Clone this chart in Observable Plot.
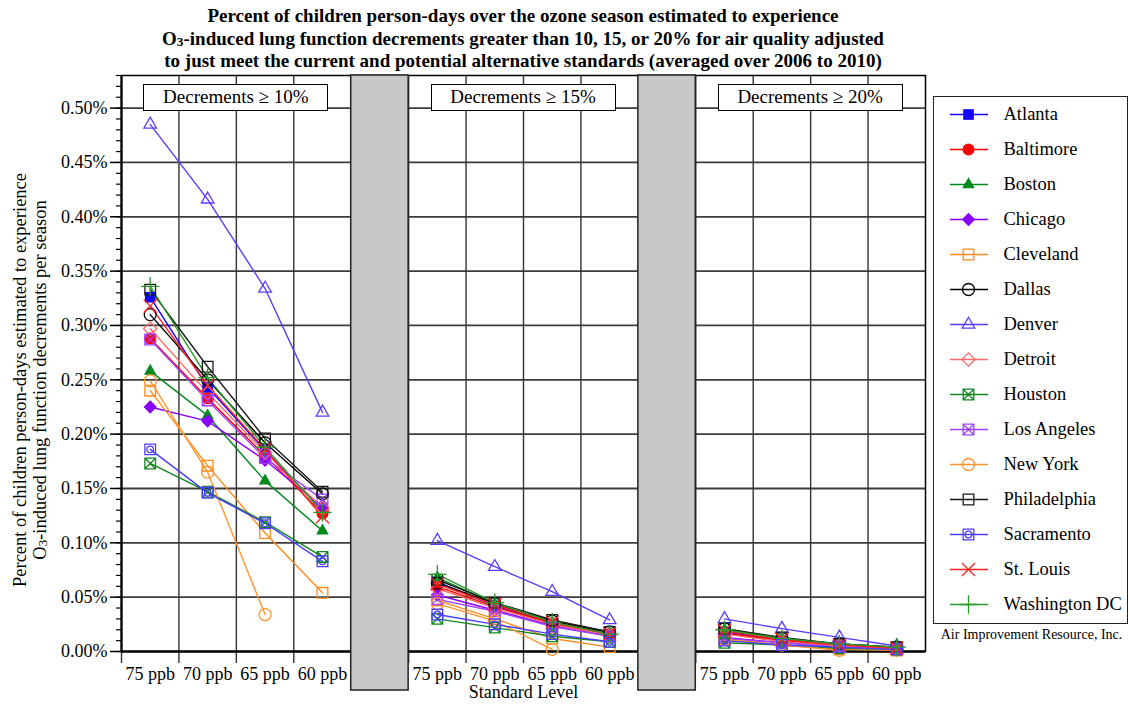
<!DOCTYPE html>
<html>
<head>
<meta charset="utf-8">
<script src="https://cdn.jsdelivr.net/npm/d3@7"></script>
<script src="https://cdn.jsdelivr.net/npm/@observablehq/plot@0.6"></script>
<style>
  body { margin: 0; background: #fff; }
  #fig { position: relative; width: 1130px; height: 704px; font-family: "Liberation Serif", "Times New Roman", serif; color: #000; overflow: hidden; }
  #fig svg { position: absolute; }
  .title { position: absolute; left: 0; top: 5px; width: 1046px; text-align: center; font-weight: bold; font-size: 19px; line-height: 22.5px; white-space: nowrap; }
  .ylabel { position: absolute; left: -200px; top: 360px; width: 460px; height: 40px; text-align: center; font-size: 18.5px; line-height: 20px; transform: rotate(-90deg); transform-origin: 50% 50%; white-space: nowrap; }
  sub { font-size: 70%; line-height: 0; vertical-align: -1px; }
  .panel-label { position: absolute; top: 84px; height: 27px; box-sizing: border-box; border: 1.5px solid #000; background: #fff; font-size: 19px; line-height: 24px; text-align: center; white-space: nowrap; }
  .credit { position: absolute; top: 627px; left: 933px; width: 197px; text-align: center; font-size: 14px; white-space: nowrap; }
</style>
</head>
<body>
<div id="fig">
  <div class="title">Percent of children person-days over the ozone season estimated to experience<br>O<sub>3</sub>-induced lung function decrements greater than 10, 15, or 20% for air quality adjusted<br>to just meet the current and potential alternative standards (averaged over 2006 to 2010)</div>
  <div class="ylabel">Percent of children person-days estimated to experience<br>O<sub>3</sub>-induced lung function decrements per season</div>
  <div class="credit">Air Improvement Resource, Inc.</div>
</div>
<script>
// Cities, in legend order
const cities = ["Atlanta", "Baltimore", "Boston", "Chicago", "Cleveland", "Dallas", "Denver", "Detroit",
  "Houston", "Los Angeles", "New York", "Philadelphia", "Sacramento", "St. Louis", "Washington DC"];
const cityColors = ["#1400ff", "#ff0000", "#008a1e", "#8a00ff", "#ff8a1e", "#000000", "#5a3cff", "#ff6a6a",
  "#13861f", "#a040ff", "#ff9530", "#1a1a1a", "#4b3cff", "#ff2020", "#2a9a2a"];
const cityFilled = [true, true, true, true, false, false, false, false,
  false, false, false, false, false, false, false];

const levels = ["75 ppb", "70 ppb", "65 ppb", "60 ppb"];
const panels = ["Decrements \u2265 10%", "Decrements \u2265 15%", "Decrements \u2265 20%"];

// Percent of children person-days, one row per city (legend order), one column per standard level
const dec10 = [
  [0.326, 0.243, 0.185, 0.130],
  [0.288, 0.233, 0.180, 0.127],
  [0.258, 0.217, 0.157, 0.111],
  [0.225, 0.212, 0.176, 0.133],
  [0.240, 0.171, 0.109, 0.054],
  [0.310, 0.250, 0.192, 0.145],
  [0.485, 0.416, 0.334, 0.220],
  [0.297, 0.238, 0.183, 0.132],
  [0.173, 0.147, 0.119, 0.087],
  [0.287, 0.231, 0.178, 0.140],
  [0.249, 0.165, 0.034, null],
  [0.333, 0.262, 0.196, 0.147],
  [0.186, 0.146, 0.118, 0.083],
  [0.318, 0.245, 0.186, 0.124],
  [0.336, 0.252, 0.188, 0.128]
];
const dec15 = [
  [0.064, 0.042, 0.026, 0.016],
  [0.060, 0.041, 0.026, 0.016],
  [0.068, 0.044, 0.027, 0.017],
  [0.052, 0.038, 0.024, 0.014],
  [0.047, 0.030, 0.012, 0.004],
  [0.063, 0.044, 0.028, 0.018],
  [0.102, 0.078, 0.055, 0.029],
  [0.058, 0.040, 0.025, 0.015],
  [0.030, 0.022, 0.014, 0.009],
  [0.048, 0.037, 0.023, 0.014],
  [0.044, 0.028, 0.002, null],
  [0.066, 0.045, 0.029, 0.018],
  [0.034, 0.025, 0.016, 0.009],
  [0.062, 0.043, 0.027, 0.016],
  [0.071, 0.045, 0.027, 0.016]
];
const dec20 = [
  [0.018, 0.010, 0.006, 0.003],
  [0.017, 0.010, 0.006, 0.003],
  [0.020, 0.012, 0.006, 0.003],
  [0.013, 0.008, 0.005, 0.002],
  [0.012, 0.006, 0.002, 0.001],
  [0.021, 0.012, 0.007, 0.004],
  [0.030, 0.021, 0.013, 0.005],
  [0.016, 0.009, 0.005, 0.003],
  [0.008, 0.006, 0.003, 0.002],
  [0.012, 0.008, 0.004, 0.002],
  [0.011, 0.006, 0.001, null],
  [0.021, 0.013, 0.007, 0.004],
  [0.010, 0.006, 0.004, 0.002],
  [0.019, 0.011, 0.006, 0.003],
  [0.020, 0.012, 0.007, 0.004]
];
const yMajor = [0, 0.05, 0.10, 0.15, 0.20, 0.25, 0.30, 0.35, 0.40, 0.45, 0.50];

// Custom marker shapes: square with an X, square with a circle
const squareX = {
  draw(ctx, size) {
    const w = Math.sqrt(size) / 2;
    ctx.moveTo(-w, -w); ctx.lineTo(w, -w); ctx.lineTo(w, w); ctx.lineTo(-w, w); ctx.closePath();
    ctx.moveTo(-w, -w); ctx.lineTo(w, w);
    ctx.moveTo(w, -w); ctx.lineTo(-w, w);
  }
};
const squareO = {
  draw(ctx, size) {
    const w = Math.sqrt(size) / 2, r = w * 0.62;
    ctx.moveTo(-w, -w); ctx.lineTo(w, -w); ctx.lineTo(w, w); ctx.lineTo(-w, w); ctx.closePath();
    ctx.moveTo(r, 0); ctx.arc(0, 0, r, 0, 2 * Math.PI);
  }
};
const citySymbols = ["square", "circle", "triangle2", "diamond2", "square", "circle", "triangle2", "diamond2",
  squareX, squareX, "circle", "square", squareO, "times", "plus"];

// Layout along x: each panel spans 4 level slots, panels separated by one blank slot
const slot = 5;
const series = [dec10, dec15, dec20];
const rows = [];
series.forEach((table, p) => {
  table.forEach((vals, i) => {
    vals.forEach((v, j) => {
      rows.push({panel: p, city: cities[i], filled: cityFilled[i], x: p * slot + j + 0.5, value: v, key: cities[i] + "|" + p});
    });
  });
});
const levelTicks = panels.flatMap((_, p) => levels.map((l, j) => ({x: p * slot + j + 0.5, label: l})));
const bounds = panels.flatMap((_, p) => levels.map((_, j) => p * slot + j));
const gaps = panels.slice(0, -1).map((_, p) => p * slot + levels.length);
const xMax = panels.length * slot - 1;

const colorScale = {domain: cities, range: cityColors};
const symbolScale = {domain: cities, range: citySymbols};

const main = Plot.plot({
  width: 930,
  height: 704,
  marginLeft: 121,
  marginRight: 5,
  marginTop: 75,
  marginBottom: 53,
  style: {fontFamily: "'Liberation Serif', 'Times New Roman', serif", fontSize: "18px", color: "#000", background: "transparent"},
  x: {domain: [0, xMax], axis: null},
  y: {domain: [0, 0.53], axis: null},
  color: colorScale,
  symbol: symbolScale,
  marks: [
    // horizontal grid
    Plot.ruleY(yMajor, {stroke: "#3c3c3c", strokeWidth: 1.8}),
    // vertical grid, extended below the frame as ticks
    Plot.ruleX(bounds, {stroke: "#333", strokeWidth: 1.4, insetBottom: -12}),
    // axes
    Plot.axisY({ticks: d3.range(0, 0.5301, 0.01), tickSize: 5, tickFormat: () => "", label: null, strokeWidth: 1.2}),
    Plot.axisY({ticks: yMajor, tickSize: 11, tickPadding: 3, tickFormat: d => d.toFixed(2) + "%", label: null, fontSize: 18, strokeWidth: 1.5}),
    Plot.ruleY([0], {stroke: "#000", strokeWidth: 2}),
    Plot.ruleX([0], {stroke: "#000", strokeWidth: 2}),
    Plot.frame({stroke: "#000", strokeWidth: 1.5}),
    // separators between panels
    Plot.rect(gaps, {x1: d => d, x2: d => d + 1, fill: "#c8c8c8", stroke: "#222", strokeWidth: 1.5, insetBottom: -39}),
    // city series
    Plot.line(rows, {x: "x", y: "value", z: "key", stroke: "city", strokeWidth: 1.4}),
    Plot.dot(rows.filter(d => d.filled), {x: "x", y: "value", symbol: "city", fill: "city", r: 6}),
    Plot.dot(rows.filter(d => !d.filled), {x: "x", y: "value", symbol: "city", stroke: "city", fill: "none", r: 6, strokeWidth: 1.3}),
    // x tick labels and axis title
    Plot.text(levelTicks, {x: "x", text: "label", frameAnchor: "bottom", dy: 28, fontSize: 18}),
    Plot.text(["Standard Level"], {frameAnchor: "bottom", dy: 46, fontSize: 18})
  ]
});
main.style.left = "0px";
main.style.top = "0px";

const legend = Plot.plot({
  width: 195,
  height: 528,
  marginLeft: 0,
  marginRight: 0,
  marginTop: 17,
  marginBottom: 19,
  style: {fontFamily: "'Liberation Serif', 'Times New Roman', serif", fontSize: "18px", color: "#000", background: "#fff"},
  x: {domain: [0, 195], axis: null},
  y: {type: "point", domain: cities, padding: 0, axis: null},
  color: colorScale,
  symbol: symbolScale,
  marks: [
    Plot.ruleY(cities, {y: d => d, x1: 17, x2: 55, stroke: d => d, strokeWidth: 1.4}),
    Plot.dot(cities.filter((c, i) => cityFilled[i]), {y: d => d, x: 35, symbol: d => d, fill: d => d, r: 6}),
    Plot.dot(cities.filter((c, i) => !cityFilled[i]), {y: d => d, x: 35, symbol: d => d, stroke: d => d, fill: "none", r: 6, strokeWidth: 1.3}),
    Plot.text(cities, {y: d => d, x: 70, text: d => d, textAnchor: "start", fontSize: 18.5})
  ]
});
legend.style.left = "933px";
legend.style.top = "96px";
legend.style.outline = "1.6px solid #222";
legend.style.outlineOffset = "-1px";

const fig = document.getElementById("fig");
fig.appendChild(main);
fig.appendChild(legend);

// Panel captions, centred on each panel with the x scale
const xs = main.scale("x");
const captionWidth = 185;
panels.forEach((label, p) => {
  const div = document.createElement("div");
  div.className = "panel-label";
  const cx = xs.apply(p * slot + levels.length / 2);
  div.style.left = (cx - captionWidth / 2) + "px";
  div.style.width = captionWidth + "px";
  div.textContent = label;
  fig.appendChild(div);
});
</script>
</body>
</html>
